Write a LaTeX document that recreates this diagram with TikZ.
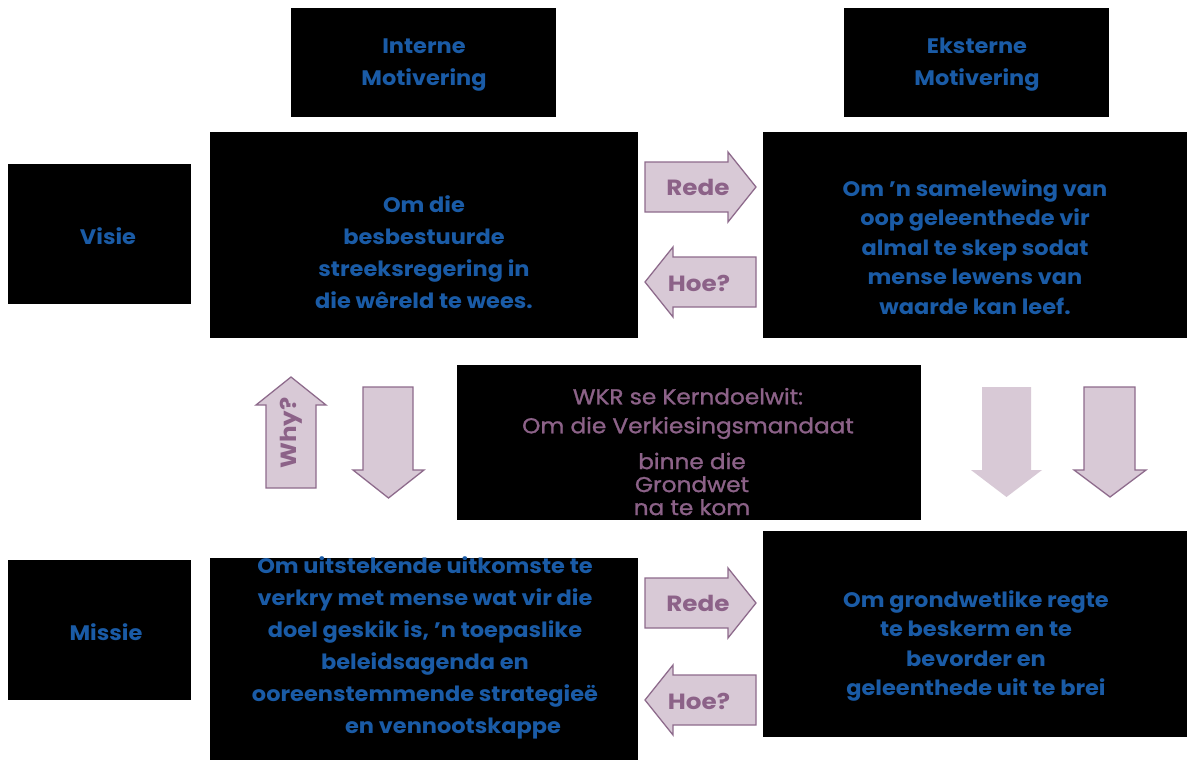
\documentclass[tikz,border=0pt]{standalone}
\usepackage{fontspec}
\setmainfont{Poppins}
\newfontfamily\bluefont{Poppins}[FakeStretch=1.07]
\newfontfamily\midfont{Poppins}[FakeStretch=1.08, FakeBold=1.2]
\newfontfamily\arrfont{Poppins}[FakeStretch=1.12]
\definecolor{txtblue}{HTML}{1A5BA6}
\definecolor{txtpurple}{HTML}{8C6288}
\definecolor{arrfill}{HTML}{D8C9D6}
\definecolor{arrdraw}{HTML}{8E6B8C}
\tikzset{
  blackbox/.style={fill=black, draw=none, inner sep=0pt, outer sep=0pt},
  bluetext/.style={text=txtblue, align=center, inner sep=0pt, font=\bluefont\fontsize{21}{32}\selectfont\bfseries},
  bluetextb/.style={bluetext, font=\bluefont\fontsize{21}{29.5}\selectfont\bfseries},
  midtext/.style={text=txtpurple, align=center, inner sep=0pt, font=\midfont\fontsize{21.5}{29}\selectfont},
  midtextb/.style={midtext, font=\midfont\fontsize{21.5}{23}\selectfont},
  arrtext/.style={text=txtpurple, inner sep=0pt, font=\arrfont\fontsize{22}{24}\selectfont\bfseries},
  blockarrow/.style={fill=arrfill, draw=arrdraw, line width=1.3pt, line join=miter},
}
\begin{document}
\begin{tikzpicture}[x=1pt,y=-1pt]
\fill[white] (0,0) rectangle (1187,760);
\useasboundingbox (0,0) rectangle (1187,760);

% boxes
\node[blackbox, minimum width=265, minimum height=109] (intern) at (423.5,62.5) {};
\node[blackbox, minimum width=265, minimum height=109] (ekstern) at (976.5,62.5) {};
\node[blackbox, minimum width=183, minimum height=140] (visie) at (99.5,234) {};
\node[blackbox, minimum width=428, minimum height=206] (tl) at (424,235) {};
\node[blackbox, minimum width=424, minimum height=206] (tr) at (975,235) {};
\node[blackbox, minimum width=464, minimum height=155] (mid) at (689,442.5) {};
\node[blackbox, minimum width=183, minimum height=140] (missie) at (99.5,630) {};
\node[blackbox, minimum width=428, minimum height=202] (bl) at (424,659) {};
\node[blackbox, minimum width=424, minimum height=206] (br) at (975,634) {};

% texts
\node[bluetext] (interntxt) at (424,65) {Interne\\Motivering};
\node[bluetext] (eksterntxt) at (977,65) {Eksterne\\Motivering};
\node[bluetext] (visietxt) at (108,236) {Visie};
\node[bluetext] (tltxt) at (424,252) {Om die\\besbestuurde\\streeksregering in\\die wêreld te wees.};
\node[bluetextb] (trtxt) at (975,247) {Om ’n samelewing van\\oop geleenthede vir\\almal te skep sodat\\mense lewens van\\waarde kan leef.};
\node[midtext] (midtxta) at (688,413.5) {WKR se Kerndoelwit:\\Om die Verkiesingsmandaat};
\node[midtextb] (midtxtb) at (692,484) {binne die\\Grondwet\\na te kom};
\node[bluetext] (missietxt) at (106,632) {Missie};
\node[bluetext] (bltxt) at (425,648) {Om uitstekende uitkomste te\\verkry met mense wat vir die\\doel geskik is, ’n toepaslike\\beleidsagenda en\\ooreenstemmende strategieë\\\hspace*{56pt}en vennootskappe};
\node[bluetextb] (brtxt) at (976,646) {Om grondwetlike regte\\te beskerm en te\\bevorder en\\geleenthede uit te brei};

% block arrows
\draw[blockarrow] (645,162) -- (728,162) -- (728,152) -- (756,187) -- (728,222) -- (728,212) -- (645,212) -- cycle;
\node[arrtext] (rede1) at (698,187) {Rede};
\draw[blockarrow] (756,257) -- (673,257) -- (673,247) -- (645,282) -- (673,317) -- (673,307) -- (756,307) -- cycle;
\node[arrtext] (hoe1) at (699,283) {Hoe?};
\draw[blockarrow] (266,488) -- (266,405) -- (256,405) -- (291,377) -- (326,405) -- (316,405) -- (316,488) -- cycle;
\node[arrtext, rotate=90] (why) at (291,433) {Why?};
\draw[blockarrow] (363,387) -- (413,387) -- (413,470) -- (424,470) -- (388.5,498) -- (353,470) -- (363,470) -- cycle;
\fill[arrfill] (982,387) -- (1031,387) -- (1031,470) -- (1042,470) -- (1006.5,497) -- (971,470) -- (982,470) -- cycle;
\draw[blockarrow] (1084,387) -- (1135,387) -- (1135,470) -- (1146,470) -- (1110,497) -- (1074,470) -- (1084,470) -- cycle;
\draw[blockarrow] (645,578) -- (728,578) -- (728,568) -- (756,603) -- (728,638) -- (728,628) -- (645,628) -- cycle;
\node[arrtext] (rede2) at (698,603) {Rede};
\draw[blockarrow] (756,675) -- (673,675) -- (673,665) -- (645,700) -- (673,735) -- (673,725) -- (756,725) -- cycle;
\node[arrtext] (hoe2) at (699,701) {Hoe?};
\end{tikzpicture}
\end{document}
